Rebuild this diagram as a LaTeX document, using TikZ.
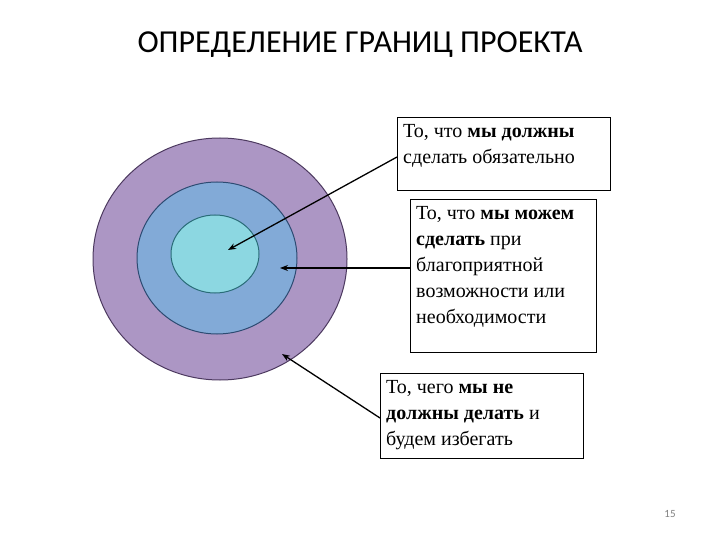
\documentclass[tikz,border=0pt]{standalone}
\usepackage{fontspec}
\setmainfont{Liberation Serif}
\newfontfamily\titlefont{Carlito}
\usetikzlibrary{arrows.meta}
\definecolor{oLight}{RGB}{172,150,196}
\definecolor{oDark}{RGB}{128,96,160}
\definecolor{mLight}{RGB}{130,170,215}
\definecolor{mDark}{RGB}{75,125,190}
\definecolor{iLight}{RGB}{140,215,225}
\definecolor{iDark}{RGB}{70,180,200}
\begin{document}
\begin{tikzpicture}[x=1pt,y=-1pt,
  txt/.style={anchor=north west,align=left,inner sep=0pt,font=\fontsize{20}{26}\selectfont},
  arr/.style={line width=1.3pt,-{Stealth[length=8pt,width=6pt]}}]
\useasboundingbox (0,0) rectangle (720,540);
\node[font=\titlefont\fontsize{32}{34}\selectfont] (title) at (360,45) {ОПРЕДЕЛЕНИЕ ГРАНИЦ ПРОЕКТА};
\path[draw=oDark!60!black,line width=1pt,top color=oLight,middle color=oDark,bottom color=oLight] (220,259) ellipse [x radius=127, y radius=121];
\path[draw=mDark!60!black,line width=1pt,top color=mLight,middle color=mDark,bottom color=mLight] (217,258) ellipse [x radius=80, y radius=76];
\path[draw=iDark!60!black,line width=1pt,top color=iLight,middle color=iDark,bottom color=iLight] (215,254) ellipse [x radius=44, y radius=39];
\coordinate (c1) at (228,250);
\coordinate (c2) at (280,268);
\coordinate (c3) at (282,354);
\draw[line width=0.8pt] (397,117) rectangle (610,190);
\node[txt] (b1) at (403,124) {То, что \textbf{мы должны}\\сделать обязательно};
\draw[line width=0.8pt] (410,199) rectangle (596,352);
\node[txt] (b2) at (416,206) {То, что \textbf{мы можем}\\\textbf{сделать} при\\благоприятной\\возможности или\\необходимости};
\draw[line width=0.8pt] (380,373) rectangle (583,458);
\node[txt] (b3) at (386,380) {То, чего \textbf{мы не}\\\textbf{должны делать} и\\будем избегать};
\coordinate (e1) at (397,157);
\coordinate (e2) at (410,268);
\coordinate (e3) at (380,418);
\draw[arr] (e1) -- (c1);
\draw[arr] (e2) -- (c2);
\draw[arr] (e3) -- (c3);
\node[font=\titlefont\fontsize{11}{12}\selectfont,text=gray] (pg) at (670,514) {15};
\end{tikzpicture}
\end{document}
